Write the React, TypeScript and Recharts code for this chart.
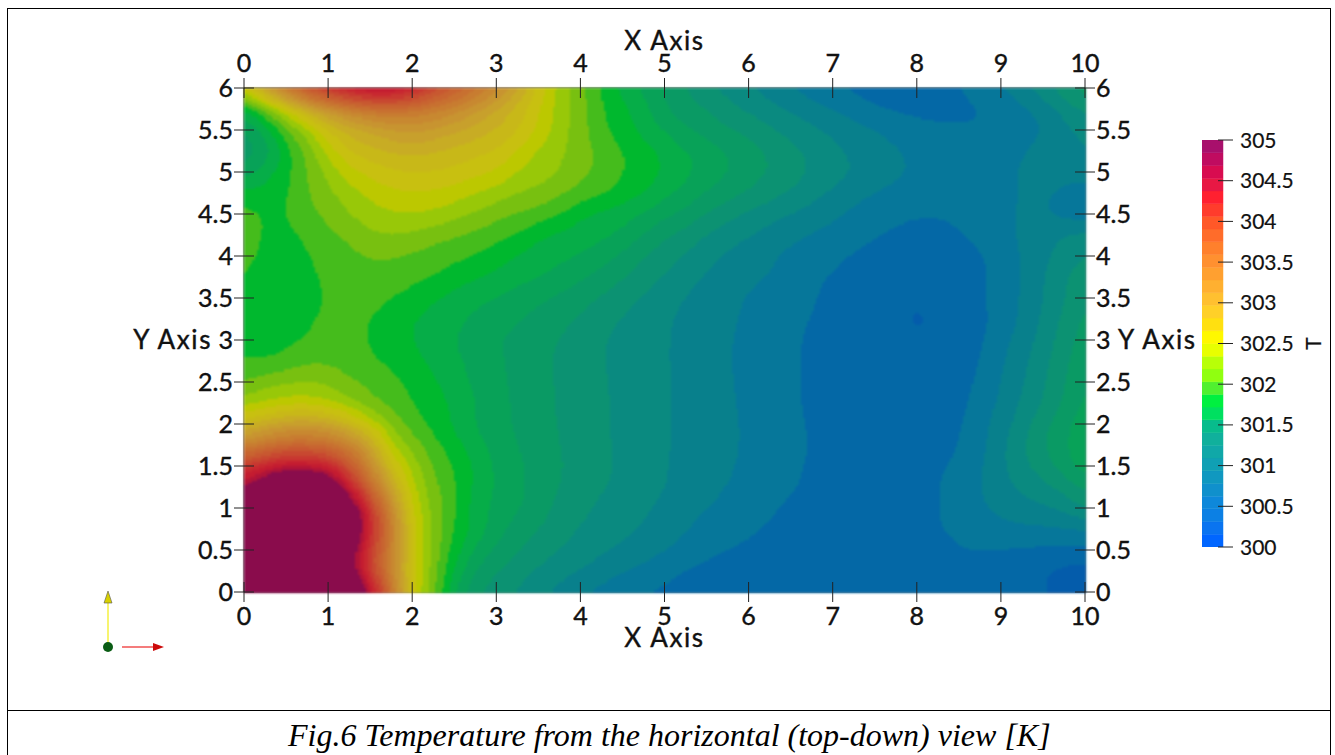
import { BarChart, Bar, ScatterChart, Scatter, XAxis, YAxis } from 'recharts';

// temperature [K], x = 0..10 every 0.25, rows from y = 6 down to y = 0
// (the crimson patch is saturated above 305, so those values are only a guess)
const xValues = [0, 0.25, 0.5, 0.75, 1, 1.25, 1.5, 1.75, 2, 2.25, 2.5, 2.75, 3, 3.25, 3.5, 3.75, 4, 4.25, 4.5, 4.75, 5, 5.25, 5.5, 5.75, 6, 6.25, 6.5, 6.75, 7, 7.25, 7.5, 7.75, 8, 8.25, 8.5, 8.75, 9, 9.25, 9.5, 9.75, 10];
const yValues = [6, 5.75, 5.5, 5.25, 5, 4.75, 4.5, 4.25, 4, 3.75, 3.5, 3.25, 3, 2.75, 2.5, 2.25, 2, 1.75, 1.5, 1.25, 1, 0.75, 0.5, 0.25, 0];
const temperature = [
  [302.6,303.2,303.7,304.15,304.5,304.75,304.9,304.9,304.65,304.25,304.0,303.7,303.4,303.05,302.6,302.3,302.07,301.85,301.67,301.52,301.4,301.24,301.12,301.03,300.95,300.86,300.77,300.7,300.64,300.59,300.55,300.53,300.54,300.58,300.62,300.7,300.77,300.9,301.04,301.2,301.35],
  [301.6,302.0,302.45,302.9,303.2,303.45,303.6,303.65,303.6,303.5,303.35,303.15,302.95,302.72,302.52,302.27,302.1,301.89,301.76,301.63,301.4,301.31,301.26,301.15,301.06,301.0,300.91,300.85,300.77,300.7,300.64,300.6,300.57,300.57,300.58,300.61,300.68,300.73,300.83,301.0,301.13],
  [301.38,301.62,301.98,302.25,302.66,302.85,302.98,303.1,303.15,303.1,303.0,302.9,302.8,302.7,302.48,302.26,302.1,301.9,301.8,301.66,301.55,301.43,301.33,301.27,301.2,301.12,301.03,300.98,300.9,300.85,300.79,300.73,300.69,300.66,300.65,300.64,300.66,300.72,300.77,300.87,301.0],
  [301.28,301.42,301.8,302.07,302.4,302.68,302.76,302.83,302.87,302.82,302.76,302.7,302.66,302.47,302.31,302.22,302.1,302.0,301.88,301.8,301.68,301.58,301.5,301.4,301.33,301.23,301.15,301.05,300.99,300.9,300.85,300.8,300.74,300.72,300.7,300.7,300.72,300.76,300.84,300.88,300.93],
  [301.45,301.65,301.82,302.03,302.23,302.43,302.55,302.62,302.66,302.65,302.62,302.56,302.49,302.33,302.27,302.2,302.07,302.0,301.88,301.8,301.72,301.6,301.51,301.42,301.33,301.25,301.17,301.09,301.01,300.94,300.87,300.82,300.76,300.73,300.7,300.7,300.72,300.81,300.85,300.85,300.85],
  [301.78,301.78,301.85,302.02,302.15,302.27,302.39,302.46,302.5,302.47,302.43,302.34,302.27,302.19,302.14,302.06,301.98,301.92,301.82,301.74,301.6,301.52,301.39,301.32,301.24,301.16,301.08,300.99,300.91,300.84,300.78,300.73,300.7,300.69,300.68,300.69,300.72,300.8,300.82,300.73,300.7],
  [301.95,301.85,301.87,301.98,302.07,302.19,302.27,302.33,302.34,302.32,302.24,302.17,302.08,302.02,301.97,301.89,301.74,301.67,301.62,301.55,301.45,301.36,301.24,301.15,301.06,300.99,300.94,300.87,300.82,300.74,300.69,300.66,300.64,300.64,300.65,300.67,300.72,300.82,300.8,300.7,300.66],
  [301.97,301.85,301.82,301.92,301.99,302.07,302.16,302.19,302.16,302.09,302.05,301.99,301.93,301.87,301.73,301.68,301.64,301.6,301.54,301.4,301.27,301.19,301.08,301.0,300.95,300.87,300.82,300.77,300.72,300.68,300.64,300.6,300.57,300.57,300.62,300.68,300.74,300.8,300.88,300.96,301.0],
  [301.95,301.82,301.78,301.86,301.93,301.98,302.05,302.05,302.0,301.96,301.92,301.86,301.8,301.7,301.65,301.61,301.55,301.49,301.37,301.24,301.17,301.07,301.0,300.91,300.86,300.8,300.74,300.7,300.66,300.61,300.57,300.54,300.52,300.52,300.54,300.6,300.72,300.78,300.89,301.0,301.1],
  [301.88,301.78,301.76,301.84,301.91,301.95,301.96,301.95,301.92,301.875,301.8,301.74,301.67,301.62,301.57,301.5,301.44,301.34,301.26,301.18,301.07,300.99,300.92,300.84,300.81,300.78,300.72,300.66,300.61,300.57,300.54,300.52,300.5,300.49,300.5,300.57,300.7,300.78,300.93,301.08,301.2],
  [301.8,301.76,301.76,301.82,301.89,301.92,301.93,301.88,301.82,301.74,301.66,301.6,301.56,301.49,301.45,301.37,301.31,301.23,301.17,301.07,301.0,300.93,300.87,300.82,300.77,300.72,300.68,300.64,300.58,300.54,300.52,300.5,300.48,300.5,300.52,300.6,300.7,300.79,300.93,301.08,301.22],
  [301.78,301.76,301.78,301.84,301.92,301.94,301.87,301.8,301.72,301.66,301.6,301.53,301.47,301.43,301.34,301.28,301.23,301.15,301.08,301.01,300.96,300.9,300.85,300.8,300.76,300.71,300.67,300.62,300.57,300.53,300.5,300.49,300.44,300.49,300.51,300.57,300.69,300.8,300.97,301.13,301.3],
  [301.8,301.8,301.83,301.89,301.94,301.93,301.86,301.79,301.72,301.65,301.56,301.49,301.41,301.36,301.3,301.25,301.19,301.1,301.05,301.0,300.95,300.9,300.85,300.79,300.75,300.71,300.65,300.6,300.57,300.54,300.52,300.5,300.48,300.49,300.52,300.6,300.72,300.85,301.0,301.17,301.33],
  [301.88,301.87,301.92,302.0,302.0,301.95,301.9,301.83,301.76,301.68,301.59,301.52,301.43,301.37,301.29,301.22,301.16,301.1,301.05,300.99,300.95,300.9,300.84,300.79,300.74,300.7,300.65,300.6,300.57,300.55,300.53,300.52,300.52,300.53,300.55,300.62,300.76,300.89,301.04,301.2,301.38],
  [302.03,302.12,302.17,302.19,302.16,302.05,302.0,301.93,301.83,301.75,301.64,301.52,301.44,301.37,301.31,301.23,301.17,301.11,301.06,301.0,300.96,300.89,300.84,300.8,300.74,300.69,300.65,300.6,300.56,300.54,300.53,300.52,300.52,300.53,300.55,300.66,300.78,300.92,301.07,301.24,301.41],
  [302.25,302.34,302.4,302.42,302.34,302.22,302.05,301.97,301.88,301.77,301.7,301.57,301.46,301.38,301.31,301.23,301.16,301.12,301.05,301.0,300.96,300.89,300.85,300.81,300.74,300.69,300.65,300.6,300.56,300.54,300.53,300.52,300.52,300.53,300.56,300.7,300.8,300.97,301.09,301.27,301.45],
  [302.73,302.92,303.05,303.1,303.0,302.78,302.45,302.15,301.95,301.83,301.69,301.55,301.46,301.38,301.32,301.24,301.18,301.12,301.06,301.0,300.96,300.9,300.85,300.81,300.76,300.7,300.66,300.61,300.57,300.54,300.53,300.52,300.52,300.53,300.61,300.72,300.85,301.02,301.2,301.36,301.5],
  [303.4,303.6,303.75,303.75,303.7,303.45,303.05,302.33,302.12,301.93,301.78,301.62,301.5,301.41,301.33,301.25,301.19,301.12,301.06,301.0,300.96,300.89,300.85,300.81,300.76,300.71,300.66,300.62,300.58,300.56,300.54,300.53,300.53,300.55,300.63,300.72,300.9,301.07,301.24,301.38,301.54],
  [304.3,304.5,304.75,304.7,304.55,304.0,303.35,302.65,302.3,302.0,301.88,301.7,301.53,301.43,301.35,301.26,301.2,301.13,301.07,301.0,300.95,300.88,300.84,300.8,300.75,300.7,300.65,300.61,300.58,300.56,300.55,300.54,300.55,300.6,300.66,300.76,300.9,301.05,301.18,301.33,301.52],
  [304.8,305.3,305.5,305.5,305.44,304.6,303.75,303.0,302.37,302.08,301.9,301.68,301.55,301.44,301.34,301.25,301.18,301.11,301.05,301.0,300.95,300.87,300.82,300.78,300.73,300.68,300.64,300.6,300.58,300.56,300.55,300.55,300.57,300.62,300.69,300.78,300.88,300.97,301.05,301.14,301.3],
  [305.4,305.5,305.5,305.5,305.5,305.35,304.35,303.37,302.47,302.12,301.9,301.63,301.52,301.43,301.33,301.2,301.14,301.06,301.0,300.96,300.9,300.82,300.79,300.74,300.7,300.64,300.6,300.57,300.56,300.55,300.55,300.55,300.57,300.62,300.68,300.75,300.83,300.88,300.91,300.98,301.12],
  [305.5,305.5,305.5,305.5,305.5,305.5,304.5,303.55,302.55,302.15,301.87,301.68,301.47,301.34,301.25,301.16,301.08,301.02,300.98,300.93,300.87,300.79,300.74,300.7,300.65,300.61,300.58,300.56,300.55,300.54,300.54,300.54,300.55,300.62,300.67,300.7,300.73,300.75,300.76,300.77,300.79],
  [305.5,305.5,305.5,305.5,305.5,305.13,304.3,303.45,302.6,302.12,301.8,301.53,301.37,301.26,301.17,301.09,301.03,300.96,300.91,300.85,300.79,300.72,300.67,300.62,300.59,300.56,300.54,300.53,300.52,300.52,300.52,300.52,300.53,300.54,300.63,300.63,300.62,300.6,300.59,300.58,300.57],
  [305.5,305.5,305.5,305.5,305.5,305.1,304.2,303.4,302.55,302.12,301.7,301.39,301.26,301.17,301.07,301.0,300.93,300.87,300.79,300.74,300.68,300.61,300.58,300.56,300.54,300.53,300.52,300.52,300.51,300.51,300.51,300.51,300.51,300.52,300.53,300.54,300.54,300.53,300.47,300.42,300.4],
  [305.5,305.5,305.5,305.5,305.5,305.6,304.85,303.7,302.48,302.1,301.55,301.26,301.17,301.07,300.97,300.89,300.8,300.72,300.67,300.62,300.59,300.56,300.54,300.53,300.52,300.51,300.51,300.5,300.5,300.5,300.5,300.5,300.5,300.5,300.5,300.5,300.5,300.51,300.49,300.42,300.38],
];

// the 32 colour bands, coolest first: as they look on the lit surface and on the legend bar
const surfaceColors = ['#0050b0', '#0054b0', '#045cab', '#0468a6', '#06779a', '#08808c', '#0a8a80', '#0c9272', '#0a9a64', '#08a258', '#06ad48', '#00b82e', '#45bc1c', '#78c010', '#98c808', '#bcc800', '#c8c010', '#c8b818', '#c8ac24', '#c8a02c', '#c89430', '#c88830', '#c87c30', '#c87030', '#c86430', '#c85830', '#c84830', '#c83830', '#c82830', '#c41c30', '#b01438', '#8a0c4c'];
const legendColors = ['#0066ff', '#0a74f0', '#0c80e4', '#0e88da', '#1090cc', '#1098c0', '#10a0b4', '#10a8a8', '#10b09c', '#08bc8c', '#00e060', '#00f040', '#50f030', '#90ff10', '#b8ff08', '#e8ff00', '#fff800', '#ffe010', '#ffd028', '#ffc030', '#ffb030', '#ffa030', '#ff9030', '#ff802c', '#ff6c2a', '#ff5828', '#ff3c2c', '#ff2030', '#e81844', '#d80c50', '#c00c60', '#a8106c'];

const xTicks = [0, 1, 2, 3, 4, 5, 6, 7, 8, 9, 10];
const yTicks = [0, 0.5, 1, 1.5, 2, 2.5, 3, 3.5, 4, 4.5, 5, 5.5, 6];
const legendTicks = [300, 300.5, 301, 301.5, 302, 302.5, 303, 303.5, 304, 304.5, 305];
const frameCorners = [{ x: 0, y: 0 }, { x: 10, y: 6 }];

const tMin = 300;
const tMax = 305;
const bandWidth = (tMax - tMin) / legendColors.length;

const FONT = 'Lato, sans-serif';
const PLOT_W = 841;
const PLOT_H = 504;
const CELL_W = PLOT_W / (xValues.length - 1);
const CELL_H = PLOT_H / (yValues.length - 1);
const SUBDIV = 10;

const gridPoints = yValues.flatMap((y, row) =>
  xValues.map((x, col) => ({ x, y, col, row, t: temperature[row][col] })),
);

const legendRow: Record<string, number | string> = { name: 'T', base: tMin };
legendColors.forEach((_, i) => {
  legendRow[`band${i}`] = bandWidth;
});

function bandIndex(t: number) {
  return Math.max(0, Math.min(legendColors.length - 1, Math.floor((t - tMin) / bandWidth)));
}

function bSpline(a: number, b: number, c: number, d: number, u: number) {
  const u2 = u * u;
  const u3 = u2 * u;
  return ((1 - 3 * u + 3 * u2 - u3) * a + (4 - 6 * u2 + 3 * u3) * b + (1 + 3 * u + 3 * u2 - 3 * u3) * c + u3 * d) / 6;
}

// temperature inside a cell, smoothed over the read values so the contours run as soft curves
function sampleCell(col: number, row: number, u: number, v: number) {
  const at = (r: number, c: number) =>
    temperature[Math.max(0, Math.min(yValues.length - 1, r))][Math.max(0, Math.min(xValues.length - 1, c))];
  const line = (r: number) => bSpline(at(r, col - 1), at(r, col), at(r, col + 1), at(r, col + 2), u);
  return bSpline(line(row - 1), line(row), line(row + 1), line(row + 2), v);
}

// one grid cell, shaded in contour bands
function ContourCell({ cx, cy, payload }: any) {
  const { col, row } = payload;
  if (col >= xValues.length - 1 || row >= yValues.length - 1) return null;
  const rects = [];
  for (let j = 0; j < SUBDIV; j++) {
    const v = (j + 0.5) / SUBDIV;
    let start = 0;
    let current = -1;
    for (let i = 0; i <= SUBDIV; i++) {
      const band = i === SUBDIV ? -2 : bandIndex(sampleCell(col, row, (i + 0.5) / SUBDIV, v));
      if (band !== current) {
        if (current >= 0) {
          rects.push(
            <rect
              key={`${j}-${start}`}
              x={cx + (start / SUBDIV) * CELL_W}
              y={cy + (j / SUBDIV) * CELL_H}
              width={((i - start) / SUBDIV) * CELL_W + 1}
              height={CELL_H / SUBDIV + 1}
              fill={surfaceColors[current]}
            />,
          );
        }
        start = i;
        current = band;
      }
    }
  }
  return <g shapeRendering="crispEdges">{rects}</g>;
}

const tickText = { fontFamily: FONT, fontSize: 25, fill: '#111', stroke: '#111', strokeWidth: 0.4 };
const titleText = { ...tickText, fontSize: 26, letterSpacing: 1.6 };

function XTick({ x, y, payload, side }: any) {
  const top = side === 'top';
  return (
    <g>
      <line x1={x} x2={x} y1={y - 10} y2={y + 10} stroke="#222" strokeWidth={1} />
      <text x={x} y={top ? y - 26 : y + 23} textAnchor="middle" dominantBaseline="central" {...tickText}>
        {payload.value}
      </text>
      {payload.value === 5 && (
        <text x={x} y={top ? y - 48 : y + 45} textAnchor="middle" dominantBaseline="central" {...titleText}>
          X Axis
        </text>
      )}
    </g>
  );
}

function YTick({ x, y, payload, side }: any) {
  const left = side === 'left';
  return (
    <g>
      <line x1={x - 10} x2={x + 10} y1={y} y2={y} stroke="#222" strokeWidth={1} />
      <text x={left ? x - 11 : x + 11} y={y - 1} textAnchor={left ? 'end' : 'start'} dominantBaseline="central" {...tickText}>
        {payload.value}
      </text>
      {payload.value === 3 && (
        <text x={left ? x - 32 : x + 33} y={y - 1} textAnchor={left ? 'end' : 'start'} dominantBaseline="central" {...titleText}>
          Y Axis
        </text>
      )}
    </g>
  );
}

function LegendTick({ x, y, payload }: any) {
  return (
    <g>
      <line x1={x - 5} x2={x + 10} y1={y} y2={y} stroke="#222" strokeWidth={1} />
      <text x={x + 17} y={y - 1} dominantBaseline="central" fontFamily={FONT} fontSize={21} fill="#111" stroke="#111" strokeWidth={0.2}>
        {payload.value}
      </text>
      {payload.value === 302.5 && (
        <text x={x + 89} y={y} textAnchor="middle" dominantBaseline="central" transform={`rotate(-90 ${x + 89} ${y})`} fontFamily={FONT} fontSize={21} fill="#111" stroke="#111" strokeWidth={0.2}>
          T
        </text>
      )}
    </g>
  );
}

function OrientationAxes() {
  return (
    <svg width={180} height={80} style={{ position: 'absolute', left: 0, top: 585 }}>
      <line x1={108} x2={108} y1={17} y2={58} stroke="#f4f040" strokeWidth={1.5} />
      <path d="M108 6 L112 18 L104 18 Z" fill="#d8d000" stroke="#555" strokeWidth={0.6} />
      <circle cx={108} cy={62} r={5} fill="#0a5c14" />
      <line x1={122} x2={154} y1={62} y2={62} stroke="#f05050" strokeWidth={1.5} />
      <path d="M164 62 L153 58 L153 66 Z" fill="#cc0a0a" />
    </svg>
  );
}

export default function App() {
  return (
    <div style={{ position: 'absolute', left: 0, top: 0, width: 1335, height: 755, overflow: 'hidden', background: '#fff' }}>
      <style>{'.recharts-scatter { filter: blur(0.8px); }'}</style>
      <div style={{ position: 'absolute', left: 7, top: 8, width: 1322, height: 760, border: '1.5px solid #000' }} />
      <div style={{ position: 'absolute', left: 7, top: 710, width: 1323, height: 0, borderTop: '1.5px solid #000' }} />

      <div style={{ position: 'absolute', left: 0, top: 0 }}>
        <ScatterChart width={1335} height={755} margin={{ top: 58, right: 210, bottom: 133, left: 204 }}>
          <Scatter data={gridPoints} dataKey="t" xAxisId="bottom" yAxisId="left" shape={ContourCell} isAnimationActive={false} />
          <Scatter data={frameCorners} xAxisId="top" yAxisId="right" shape={() => null} isAnimationActive={false} />
          <XAxis xAxisId="bottom" type="number" dataKey="x" orientation="bottom" domain={[0, 10]} ticks={xTicks} height={30} interval={0} tickSize={0} tickMargin={0} tickLine={false} stroke="#333" tick={(p: any) => <XTick {...p} side="bottom" />} />
          <XAxis xAxisId="top" type="number" dataKey="x" orientation="top" domain={[0, 10]} ticks={xTicks} height={30} interval={0} tickSize={0} tickMargin={0} tickLine={false} stroke="#333" tick={(p: any) => <XTick {...p} side="top" />} />
          <YAxis yAxisId="left" type="number" dataKey="y" orientation="left" domain={[0, 6]} ticks={yTicks} width={40} interval={0} tickSize={0} tickMargin={0} tickLine={false} stroke="#333" tick={(p: any) => <YTick {...p} side="left" />} />
          <YAxis yAxisId="right" type="number" dataKey="y" orientation="right" domain={[0, 6]} ticks={yTicks} width={40} interval={0} tickSize={0} tickMargin={0} tickLine={false} stroke="#333" tick={(p: any) => <YTick {...p} side="right" />} />
        </ScatterChart>
      </div>

      <div style={{ position: 'absolute', left: 1202, top: 120 }}>
        <BarChart width={125} height={447} data={[legendRow]} margin={{ top: 20, right: 0, bottom: 20, left: 0 }} barCategoryGap={0}>
          <XAxis dataKey="name" hide />
          <YAxis orientation="right" type="number" domain={[tMin, tMax]} ticks={legendTicks} allowDataOverflow width={104} interval={0} tickSize={0} tickMargin={0} tickLine={false} axisLine={false} tick={LegendTick} />
          <Bar dataKey="base" stackId="t" fill="none" isAnimationActive={false} />
          {legendColors.map((color, i) => (
            <Bar key={color} dataKey={`band${i}`} stackId="t" fill={color} stroke={color} strokeWidth={0.5} isAnimationActive={false} />
          ))}
        </BarChart>
      </div>

      <OrientationAxes />

      <div style={{ position: 'absolute', left: 288, top: 717, fontFamily: '"Liberation Serif", serif', fontStyle: 'italic', fontSize: 32, whiteSpace: 'nowrap', color: '#000' }}>
        Fig.6 Temperature from the horizontal (top-down) view [K]
      </div>
    </div>
  );
}
